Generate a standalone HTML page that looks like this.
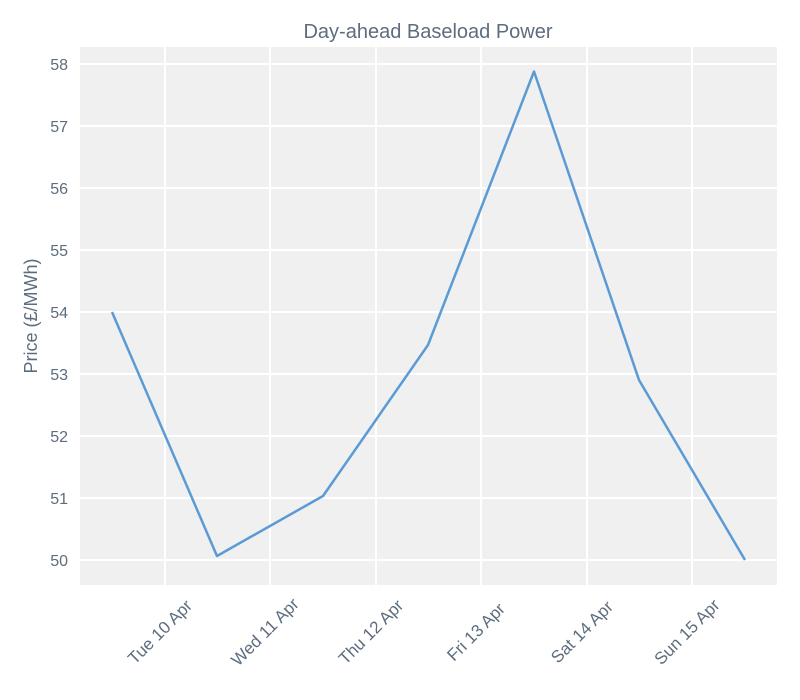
<!DOCTYPE html>
<html><head><meta charset="utf-8"><style>body{margin:0;background:#fff}svg{display:block}</style></head><body>
<svg width="800" height="700" xmlns="http://www.w3.org/2000/svg" font-family="Liberation Sans, sans-serif">
<rect x="80" y="47" width="697" height="538" fill="#f0f0f0"/>
<g stroke="#fff" stroke-width="2">
<line x1="80" x2="777" y1="64" y2="64"/><line x1="80" x2="777" y1="126" y2="126"/><line x1="80" x2="777" y1="188" y2="188"/><line x1="80" x2="777" y1="250" y2="250"/><line x1="80" x2="777" y1="312" y2="312"/><line x1="80" x2="777" y1="374" y2="374"/><line x1="80" x2="777" y1="436" y2="436"/><line x1="80" x2="777" y1="498" y2="498"/><line x1="80" x2="777" y1="560" y2="560"/>
<line y1="47" y2="585" x1="165" x2="165"/><line y1="47" y2="585" x1="270" x2="270"/><line y1="47" y2="585" x1="376" x2="376"/><line y1="47" y2="585" x1="481" x2="481"/><line y1="47" y2="585" x1="587" x2="587"/><line y1="47" y2="585" x1="692" x2="692"/>
</g>
<polyline fill="none" stroke="#5b9bd5" stroke-width="2.5" stroke-linejoin="round" points="112,312 217,556 323,496 428,345 534,71.5 639,380 745,560"/>
<g fill="#5d6d7e" font-size="16" text-anchor="end">
<text x="68" y="70">58</text><text x="68" y="132">57</text><text x="68" y="194">56</text><text x="68" y="256">55</text><text x="68" y="318">54</text><text x="68" y="380">53</text><text x="68" y="442">52</text><text x="68" y="504">51</text><text x="68" y="566">50</text>
</g>
<g fill="#5d6d7e" font-size="17" text-anchor="middle">
<text transform="translate(164,636) rotate(-45)">Tue 10 Apr</text>
<text transform="translate(269,636) rotate(-45)">Wed 11 Apr</text>
<text transform="translate(375,636) rotate(-45)">Thu 12 Apr</text>
<text transform="translate(480,636) rotate(-45)">Fri 13 Apr</text>
<text transform="translate(586,636) rotate(-45)">Sat 14 Apr</text>
<text transform="translate(691,636) rotate(-45)">Sun 15 Apr</text>
<text x="428" y="38" font-size="20">Day-ahead Baseload Power</text>
<text transform="translate(37,316) rotate(-90)" font-size="18">Price (£/MWh)</text>
</g>
</svg>
</body></html>
